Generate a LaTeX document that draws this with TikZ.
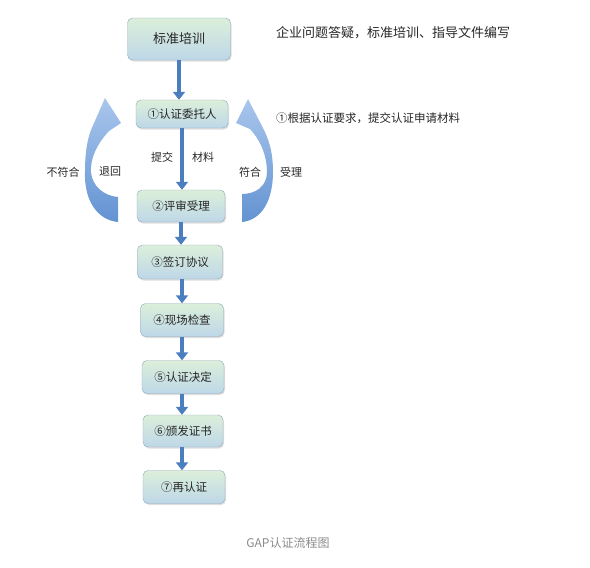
\documentclass[tikz,border=0pt]{standalone}
\usepackage{fontspec}
\setmainfont{Noto Sans CJK SC}
\usetikzlibrary{arrows.meta, shadows}

\definecolor{boxtop}{HTML}{DCEFDA}
\definecolor{boxbot}{HTML}{BED7E8}
\definecolor{boxline}{HTML}{8FA8B8}
\definecolor{flowblue}{HTML}{4A7EBF}
\definecolor{bendtop}{HTML}{A9C6EC}
\definecolor{bendbot}{HTML}{6393D2}
\definecolor{txt}{HTML}{262626}
\definecolor{capgray}{HTML}{8A8A8A}

\begin{document}
\begin{tikzpicture}[x=1pt, y=-1pt,
  stepbox/.style={draw=boxline, rounded corners=5pt, top color=boxtop, bottom color=boxbot,
    drop shadow={opacity=0.25, shadow xshift=1pt, shadow yshift=-1.5pt},
    font=\fontsize{11.5}{13}\selectfont, text=txt, inner sep=0pt},
  flow/.style={draw=flowblue, line width=4pt, -{Triangle[width=12pt, length=8pt]}},
  loopband/.style={top color=bendtop, bottom color=bendbot},
  lbl/.style={font=\fontsize{11}{13}\selectfont, text=txt, inner sep=0pt}]
  \useasboundingbox (0,0) rectangle (590,568);

  % process boxes
  \node[stepbox, minimum width=103pt, minimum height=42pt, font=\fontsize{13}{15}\selectfont] (train) at (179,39) {标准培训};
  \node[stepbox, minimum width=92pt, minimum height=28pt] (s1) at (182,114) {①认证委托人};
  \node[stepbox, minimum width=88pt, minimum height=32pt] (s2) at (181,206) {②评审受理};
  \node[stepbox, minimum width=85pt, minimum height=34pt] (s3) at (180,262) {③签订协议};
  \node[stepbox, minimum width=83pt, minimum height=33pt] (s4) at (182,320) {④现场检查};
  \node[stepbox, minimum width=82pt, minimum height=33pt] (s5) at (183,377) {⑤认证决定};
  \node[stepbox, minimum width=80pt, minimum height=32pt] (s6) at (183,431) {⑥颁发证书};
  \node[stepbox, minimum width=82pt, minimum height=33pt] (s7) at (184,487) {⑦再认证};

  % straight arrows
  \draw[flow] (train.south) -- (train.south |- s1.north);
  \draw[flow] (s1.south) -- (s1.south |- s2.north);
  \draw[flow] (s2.south) -- (s2.south |- s3.north);
  \draw[flow] (s3.south -| s4) -- (s4.north);
  \draw[flow] (s4.south) -- (s4.south |- s5.north);
  \draw[flow] (s5.south -| s4) -- (s4 |- s6.north);
  \draw[flow] (s6.south -| s4) -- (s4 |- s7.north);

  % bent arrows
  \shade[loopband] (118,222) .. controls (97,220) and (84,200) .. (85,172)
    .. controls (85,150) and (88,138) .. (91,130) -- (105,98) -- (121,123) -- (109,131)
    .. controls (96,145) and (90,160) .. (91,172)
    .. controls (92,186) and (104,196) .. (118,197) -- cycle;
  \shade[loopband] (242,222) .. controls (262,220) and (273,200) .. (273,172)
    .. controls (273,150) and (268,138) .. (263,128) -- (248,99) -- (236,123) -- (250,129)
    .. controls (262,142) and (267,158) .. (267,172)
    .. controls (267,186) and (256,194) .. (242,194) -- cycle;

  % labels
  \node[lbl] (submit) at (162,157) {提交};
  \node[lbl] (docs) at (203,157) {材料};
  \node[lbl] (nofit) at (63,172) {不符合};
  \node[lbl] (back) at (110,172) {退回};
  \node[lbl] (fit) at (250,172) {符合};
  \node[lbl] (accept) at (291,172) {受理};
  \node[lbl, anchor=west, font=\fontsize{13}{15}\selectfont] (note0) at (276,33) {企业问题答疑，标准培训、指导文件编写};
  \node[lbl, anchor=west, font=\fontsize{11.5}{13}\selectfont] (note1) at (276,118) {①根据认证要求，提交认证申请材料};
  \node[lbl, text=capgray, font=\fontsize{12}{14}\selectfont] (title) at (288,543) {GAP认证流程图};
\end{tikzpicture}
\end{document}
